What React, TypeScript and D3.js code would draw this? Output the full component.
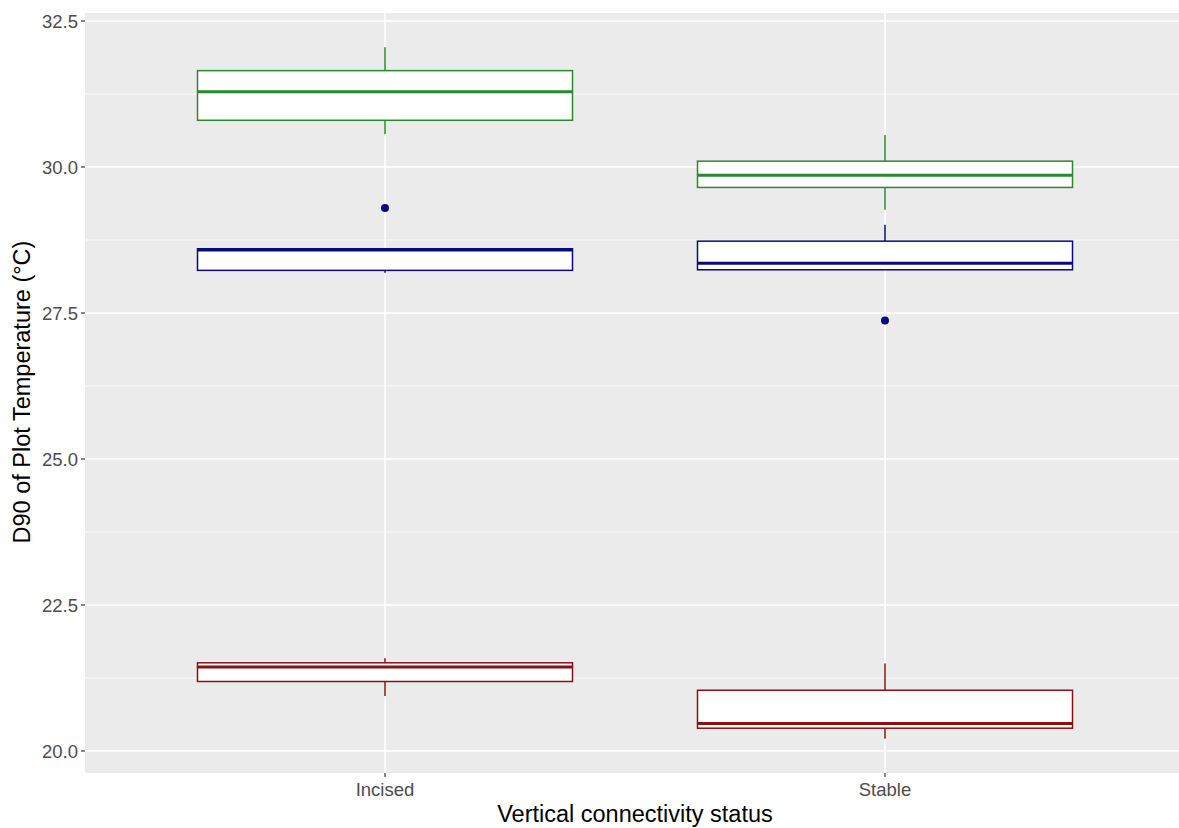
import React from "react";
import * as d3 from "d3";

const categories = ["Incised", "Stable"];
const seriesNames = ["green", "blue", "red"];
const seriesColors = ["#2a8a2a", "#0a0a80", "#8b1010"];
// [category][series] -> [lowWhisker, q1, median, q3, highWhisker]
const incisedStats = [
  [30.56, 30.8, 31.29, 31.65, 32.05],
  [28.19, 28.23, 28.58, 28.6, 28.6],
  [20.94, 21.19, 21.44, 21.51, 21.59],
];
const stableStats = [
  [29.27, 29.65, 29.86, 30.1, 30.55],
  [28.24, 28.24, 28.35, 28.73, 29.01],
  [20.21, 20.39, 20.47, 21.04, 21.5],
];
const outliers = [
  { cat: "Incised", series: 1, value: 29.3 },
  { cat: "Stable", series: 1, value: 27.37 },
];
const yTicks = [20.0, 22.5, 25.0, 27.5, 30.0, 32.5];
const yMinor = [21.25, 23.75, 26.25, 28.75, 31.25];

export default function App() {
  const W = 1179, H = 828;
  const left = 85, right = 1185, top = 13, bottom = 773;
  const y = d3.scaleLinear().domain([19.623, 32.637]).range([bottom, top]);
  const x = d3.scaleLinear().domain([0.4, 2.6]).range([left, right]);
  const catX = (c: string) => x(categories.indexOf(c) + 1);
  const boxW = 0.75 * (x(2) - x(1));
  const statsByCat: Record<string, number[][]> = { Incised: incisedStats, Stable: stableStats };
  const font = "Liberation Sans, Arial, sans-serif";

  return (
    <svg width={W} height={H} style={{ display: "block", position: "absolute", left: 0, top: 0 }}>
      <rect x={0} y={0} width={W} height={H} fill="#fff" />
      <rect x={left} y={top} width={right - left} height={bottom - top} fill="#ebebeb" />
      {yMinor.map((v) => (
        <line key={"mn" + v} x1={left} x2={right} y1={y(v)} y2={y(v)} stroke="#fff" strokeWidth={0.8} />
      ))}
      {yTicks.map((v) => (
        <line key={"mj" + v} x1={left} x2={right} y1={y(v)} y2={y(v)} stroke="#fff" strokeWidth={1.6} />
      ))}
      {categories.map((c) => (
        <line key={"vg" + c} x1={catX(c)} x2={catX(c)} y1={top} y2={bottom} stroke="#fff" strokeWidth={1.6} />
      ))}
      {categories.map((c) =>
        statsByCat[c].map((s, i) => {
          const cx = catX(c);
          const col = seriesColors[i];
          const [lo, q1, med, q3, hi] = s;
          return (
            <g key={c + seriesNames[i]}>
              <line x1={cx} x2={cx} y1={y(hi)} y2={y(q3)} stroke={col} strokeWidth={1.5} />
              <line x1={cx} x2={cx} y1={y(q1)} y2={y(lo)} stroke={col} strokeWidth={1.5} />
              <rect x={cx - boxW / 2} y={y(q3)} width={boxW} height={y(q1) - y(q3)} fill="#fff" stroke={col} strokeWidth={1.5} />
              <line x1={cx - boxW / 2} x2={cx + boxW / 2} y1={y(med)} y2={y(med)} stroke={col} strokeWidth={3} />
            </g>
          );
        })
      )}
      {outliers.map((o, i) => (
        <circle key={"o" + i} cx={catX(o.cat)} cy={y(o.value)} r={4} fill={seriesColors[o.series]} />
      ))}
      {yTicks.map((v) => (
        <g key={"yt" + v}>
          <line x1={left - 4} x2={left} y1={y(v)} y2={y(v)} stroke="#333" strokeWidth={1.2} />
          <text x={left - 7} y={y(v)} dy="0.36em" textAnchor="end" fontFamily={font} fontSize={18.5} fill="#4d4d4d">
            {v.toFixed(1)}
          </text>
        </g>
      ))}
      {categories.map((c) => (
        <g key={"xt" + c}>
          <line x1={catX(c)} x2={catX(c)} y1={bottom} y2={bottom + 4} stroke="#333" strokeWidth={1.2} />
          <text x={catX(c)} y={bottom + 23} textAnchor="middle" fontFamily={font} fontSize={18.5} fill="#4d4d4d">
            {c}
          </text>
        </g>
      ))}
      <text x={(left + right) / 2} y={822} textAnchor="middle" fontFamily={font} fontSize={23.5} fill="#000">
        Vertical connectivity status
      </text>
      <text transform={`translate(30,${(top + bottom) / 2 - 1}) rotate(-90)`} textAnchor="middle" fontFamily={font} fontSize={23.5} fill="#000">
        D90 of Plot Temperature (°C)
      </text>
    </svg>
  );
}
